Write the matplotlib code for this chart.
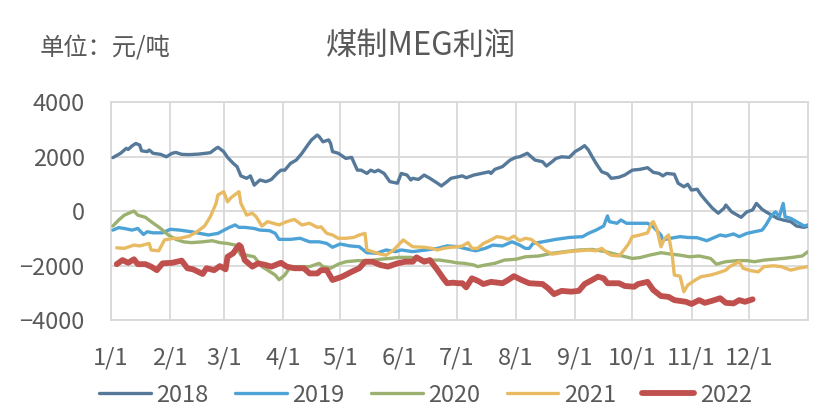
import numpy as np
import matplotlib
matplotlib.use('Agg')
import matplotlib.pyplot as plt

plt.rcParams['font.family'] = ['Noto Sans CJK SC', 'DejaVu Sans']

# day of year (0 = 1/1) and profit (yuan/ton)
days_2018 = [1, 5, 8, 9, 11, 13, 15, 16, 19, 20, 22, 26, 29, 32, 34, 37, 41, 46, 52, 55, 56, 59, 61, 64, 66, 68, 71, 73,
             75, 78, 81, 82, 84, 87, 89, 91, 94, 97, 100, 103, 105, 108, 109, 111, 114, 115, 116, 119, 123, 126, 129,
             131, 134, 136, 138, 140, 143, 146, 150, 152, 155, 157, 158, 161, 164, 167, 171, 173, 176, 178, 182, 184,
             186, 190, 194, 198, 199, 201, 205, 209, 212, 214, 218, 222, 226, 228, 231, 233, 236, 240, 243, 246, 248,
             250, 252, 254, 257, 260, 262, 266, 269, 273, 277, 281, 284, 287, 289, 291, 295, 297, 300, 302, 304, 307,
             309, 312, 315, 318, 321, 322, 325, 328, 330, 333, 336, 338, 341, 343, 346, 349, 352, 356, 359, 363, 365]
vals_2018 = [1960, 2120, 2300, 2260, 2390, 2480, 2420, 2210, 2180, 2240, 2120, 2080, 1990, 2120, 2150, 2080, 2070, 2090,
             2140, 2300, 2340, 2180, 1970, 1750, 1630, 1290, 1200, 1290, 950, 1140, 1080, 1100, 1160, 1380, 1500, 1500,
             1750, 1870, 2120, 2420, 2610, 2790, 2730, 2540, 2610, 2480, 2180, 2120, 1930, 1970, 1500, 1500, 1380, 1500,
             1440, 1500, 1380, 1080, 1020, 1380, 1320, 1140, 1200, 1160, 1320, 1200, 1020, 920, 1080, 1200, 1260, 1290,
             1220, 1320, 1380, 1440, 1380, 1530, 1630, 1870, 1970, 1990, 2120, 1870, 1810, 1650, 1810, 1930, 1990, 1970,
             2180, 2300, 2400, 2240, 1990, 1750, 1440, 1360, 1200, 1240, 1320, 1500, 1530, 1590, 1420, 1380, 1290, 1380,
             1350, 1020, 890, 980, 770, 800, 590, 340, 100, -80, 100, 220, -30, -150, -230, -30, 40, 280, 60, -30, -150,
             -270, -330, -390, -550, -600, -550]

days_2019 = [1, 4, 7, 11, 14, 17, 19, 22, 27, 31, 36, 42, 48, 51, 56, 60, 62, 65, 67, 70, 75, 78, 83, 86, 88, 91, 94,
             99, 104, 109, 113, 116, 120, 125, 130, 134, 139, 144, 149, 152, 158, 165, 171, 176, 182, 185, 191, 196,
             200, 205, 210, 214, 217, 219, 221, 226, 233, 240, 247, 250, 254, 258, 260, 261, 265, 267, 270, 277, 281,
             284, 288, 289, 293, 298, 302, 307, 312, 315, 319, 322, 326, 329, 333, 337, 341, 343, 346, 348, 350, 352,
             353, 356, 359, 363, 365]
vals_2019 = [-700, -610, -640, -700, -640, -860, -760, -800, -800, -670, -700, -760, -840, -880, -820, -670, -600, -510,
             -600, -600, -640, -700, -720, -820, -1040, -1040, -1040, -1000, -1130, -1130, -1190, -1330, -1210, -1280,
             -1310, -1530, -1550, -1430, -1490, -1430, -1490, -1430, -1370, -1280, -1310, -1370, -1460, -1370, -1250,
             -1280, -1130, -1250, -1370, -1370, -1190, -1130, -1040, -970, -940, -820, -700, -550, -180, -390, -450,
             -330, -450, -450, -450, -580, -880, -1060, -1000, -940, -970, -980, -1090, -1000, -880, -920, -840, -940,
             -820, -760, -700, -510, -150, -30, -210, 280, -210, -270, -390, -550, -510]

days_2020 = [1, 4, 7, 12, 14, 18, 21, 26, 30, 34, 38, 42, 48, 53, 57, 61, 65, 68, 71, 75, 79, 82, 86, 88, 91, 94, 99,
             104, 109, 111, 115, 119, 123, 129, 136, 141, 146, 151, 157, 162, 167, 172, 178, 181, 185, 190, 192, 196,
             201, 206, 212, 217, 224, 231, 238, 245, 252, 259, 266, 273, 277, 282, 288, 293, 298, 303, 308, 314, 317,
             322, 328, 333, 337, 342, 347, 352, 357, 362, 365]
vals_2020 = [-550, -330, -150, 0, -150, -230, -390, -640, -880, -1040, -1130, -1160, -1130, -1090, -1160, -1190, -1250,
             -1620, -1620, -1680, -2040, -2170, -2350, -2520, -2350, -2040, -2040, -2040, -1920, -2040, -2100, -1950,
             -1860, -1820, -1820, -1770, -1740, -1700, -1700, -1770, -1800, -1800, -1860, -1900, -1920, -1980, -2040,
             -1980, -1920, -1800, -1770, -1680, -1650, -1550, -1490, -1430, -1410, -1490, -1620, -1740, -1710, -1620,
             -1530, -1580, -1620, -1680, -1650, -1740, -1950, -1860, -1820, -1820, -1860, -1800, -1770, -1740, -1700,
             -1650, -1490]

days_2021 = [3, 7, 12, 15, 20, 21, 25, 28, 33, 36, 41, 45, 49, 52, 55, 56, 59, 61, 63, 67, 68, 71, 74, 76, 79, 82, 84,
             88, 92, 96, 100, 104, 108, 110, 113, 116, 119, 123, 127, 130, 133, 134, 137, 141, 144, 148, 151, 153, 156,
             158, 164, 168, 171, 174, 178, 182, 184, 187, 189, 192, 195, 199, 202, 205, 208, 211, 214, 217, 220, 224,
             227, 231, 234, 240, 245, 250, 254, 257, 260, 262, 266, 268, 271, 273, 277, 281, 283, 284, 286, 288, 290,
             292, 294, 295, 298, 300, 302, 306, 309, 314, 317, 322, 324, 329, 331, 335, 339, 342, 347, 351, 356, 360,
             365]
vals_2021 = [-1350, -1370, -1250, -1280, -1190, -1430, -1460, -1060, -1000, -1000, -920, -760, -550, -210, 280, 590,
             710, 340, 500, 710, 280, -150, -80, -210, -550, -390, -430, -510, -390, -310, -510, -450, -600, -580, -820,
             -880, -1000, -1000, -970, -880, -820, -1430, -1490, -1580, -1620, -1430, -1210, -1060, -1210, -1310, -1330,
             -1370, -1430, -1370, -1330, -1310, -1280, -1160, -1370, -1370, -1190, -1060, -940, -970, -1040, -920,
             -1090, -1000, -1040, -1250, -1430, -1580, -1550, -1490, -1460, -1430, -1460, -1370, -1550, -1620, -1650,
             -1490, -1210, -940, -880, -800, -450, -390, -700, -1310, -1000, -880, -1680, -2350, -2390, -2960, -2720,
             -2530, -2410, -2350, -2290, -2170, -2040, -1860, -2100, -2190, -2230, -2040, -2010, -2040, -2170, -2100,
             -2040]

days_2022 = [3, 6, 9, 12, 14, 18, 21, 24, 27, 32, 37, 40, 43, 48, 50, 54, 57, 60, 61, 64, 67, 68, 70, 74, 77, 81, 84,
             89, 92, 96, 101, 104, 108, 110, 113, 116, 121, 126, 130, 133, 137, 141, 145, 150, 154, 158, 160, 164, 167,
             171, 174, 176, 179, 182, 184, 186, 189, 192, 195, 199, 205, 208, 211, 215, 219, 226, 229, 232, 236, 241,
             245, 248, 252, 255, 258, 260, 266, 269, 274, 276, 281, 284, 288, 292, 295, 301, 304, 308, 311, 315, 319,
             322, 326, 329, 332, 336]
vals_2022 = [-1950, -1800, -1900, -1770, -1950, -1950, -2040, -2170, -1920, -1900, -1820, -2100, -2140, -2310, -2100,
             -2170, -2020, -2140, -1680, -1550, -1250, -1310, -1800, -2040, -1920, -1980, -2040, -1900, -2040, -2100,
             -2100, -2290, -2290, -2170, -2170, -2530, -2410, -2230, -2100, -1860, -1860, -1980, -2040, -1920, -1860,
             -1860, -1700, -1860, -1800, -2170, -2470, -2650, -2630, -2650, -2650, -2800, -2470, -2560, -2680, -2600,
             -2650, -2530, -2390, -2530, -2650, -2680, -2840, -3050, -2930, -2960, -2930, -2680, -2530, -2410, -2470,
             -2650, -2650, -2750, -2780, -2680, -2600, -2900, -3120, -3150, -3270, -3330, -3410, -3270, -3370, -3290,
             -3200, -3370, -3390, -3270, -3330, -3240]

month_days = [0, 31, 59, 90, 120, 151, 181, 212, 243, 273, 304, 334]
month_labels = ['1/1', '2/1', '3/1', '4/1', '5/1', '6/1', '7/1', '8/1', '9/1', '10/1', '11/1', '12/1']
y_ticks = [-4000, -2000, 0, 2000, 4000]

text_color = '#595959'
grid_color = '#d9d9d9'

series = [
    ('2018', days_2018, vals_2018, '#56799a', 2.4),
    ('2019', days_2019, vals_2019, '#4ea3d6', 2.4),
    ('2020', days_2020, vals_2020, '#9cb170', 2.4),
    ('2021', days_2021, vals_2021, '#e8ba62', 2.4),
    ('2022', days_2022, vals_2022, '#c0504d', 4.2),
]

fig = plt.figure(figsize=(8.31, 4.18), dpi=100)
ax = fig.add_axes([0.1336, 0.2344, 0.8387, 0.5215])

for name, d, v, color, lw in series:
    ax.plot(np.array(d), np.array(v), color=color, lw=lw, label=name,
            solid_joinstyle='round', solid_capstyle='round', zorder=3)

ax.set_xlim(0, 365)
ax.set_ylim(-4000, 4000)
ax.set_xticks(month_days)
ax.set_xticklabels(month_labels)
ax.set_yticks(y_ticks)
ax.grid(True, color=grid_color, lw=1.3, zorder=0)
ax.tick_params(length=0, labelsize=17, colors=text_color)
ax.tick_params(axis='x', pad=19)
ax.tick_params(axis='y', pad=19)
for s in ax.spines.values():
    s.set_color(grid_color)
    s.set_linewidth(1.3)

fig.text(0.507, 0.89, '煤制MEG利润', ha='center', va='center', fontsize=22.5, color=text_color)
fig.text(0.048, 0.883, '单位：元/吨', ha='left', va='center', fontsize=17.5, color=text_color)

fig.legend(loc='center', bbox_to_anchor=(0.512, 0.055), ncol=5, frameon=False,
           fontsize=17, labelcolor=text_color, handlelength=2.2, handletextpad=0.25,
           columnspacing=1.1)

fig.savefig('out.png', dpi=100)
